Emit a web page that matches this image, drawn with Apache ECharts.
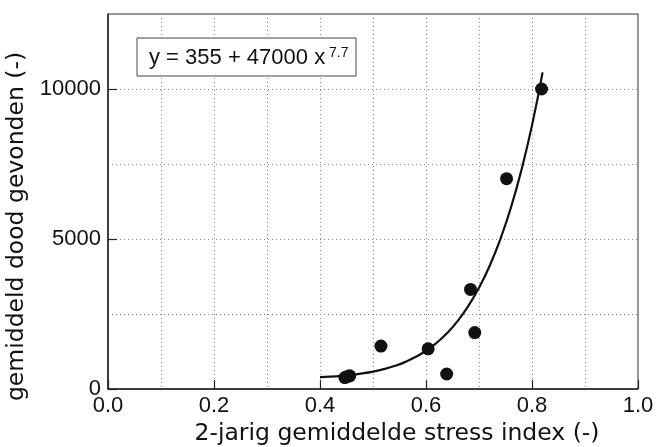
<!DOCTYPE html>
<html>
<head>
<meta charset="utf-8">
<script src="https://cdn.jsdelivr.net/npm/echarts@6/dist/echarts.min.js"></script>
<style>html,body{margin:0;padding:0;background:#fff}#c{width:656px;height:447px}</style>
</head>
<body>
<div id="c"></div>
<script>
// Observed points
const stressIndex = [0.447, 0.452, 0.456, 0.515, 0.604, 0.639, 0.684, 0.692, 0.752, 0.818];
const deadFound   = [380,   420,   440,   1430,  1340,  500,   3320,  1880,  7010,  10000];
// Fitted curve
const curveX = [0.40,0.42,0.44,0.46,0.48,0.50,0.52,0.54,0.56,0.58,0.60,0.62,0.64,0.66,0.68,0.70,0.72,0.74,0.76,0.78,0.80,0.82];
const curveY = [396,414,440,474,520,581,661,764,896,1064,1275,1540,1868,2272,2768,3372,4101,4981,6035,7293,8787,10554];
const xTitle = '2-jarig gemiddelde stress index (-)';
const yTitle = 'gemiddeld dood gevonden (-)';
const eqMain = 'y = 355 + 47000 x';
const eqExp = '7.7';

const TFONT = 'DejaVu Sans';
const FONT = 'Liberation Sans';
const dotted = {show:true, lineStyle:{color:'#8a8a8a', type:[1,3], width:1}};
const chart = echarts.init(document.getElementById('c'), null, {renderer:'canvas'});
chart.setOption({
  animation:false,
  backgroundColor:'#fff',
  grid:{left:108, right:18, top:14, bottom:58, show:true, borderColor:'#333', borderWidth:1,
        containLabel:false, outerBoundsMode:'none'},
  xAxis:{
    type:'value', min:0, max:1, interval:0.2,
    name:xTitle, nameLocation:'middle', nameGap:33,
    nameTextStyle:{fontFamily:TFONT, fontSize:23.5, color:'#111', padding:[0,0,0,48]},
    axisLine:{show:true, lineStyle:{color:'#222', width:1.5}},
    axisTick:{show:true, inside:true, length:9, lineStyle:{color:'#222', width:1.2}},
    axisLabel:{fontFamily:FONT, fontSize:22, color:'#111', margin:6, formatter:v=>v.toFixed(1)},
    splitLine:dotted,
    minorTick:{show:false, splitNumber:2},
    minorSplitLine:dotted
  },
  yAxis:[{
    type:'value', min:0, max:12500, interval:2500,
    axisLine:{show:true, lineStyle:{color:'#222', width:1.5}},
    axisTick:{show:false}, axisLabel:{show:false},
    splitLine:dotted
  },{
    type:'value', min:0, max:12500, interval:5000, position:'left',
    name:yTitle, nameLocation:'middle', nameGap:58,
    nameTextStyle:{fontFamily:TFONT, fontSize:23.5, color:'#111', padding:[0,50,0,0]},
    axisLine:{show:false},
    axisTick:{show:true, inside:true, length:9, lineStyle:{color:'#222', width:1.2}},
    axisLabel:{fontFamily:FONT, fontSize:22, color:'#111', margin:7, showMaxLabel:false,
               formatter:v=>String(v)},
    splitLine:{show:false}
  }],
  series:[{
    type:'line', data:curveX.map((x,i)=>[x,curveY[i]]), smooth:true, showSymbol:false,
    lineStyle:{color:'#111', width:2.2}, z:2
  },{
    type:'scatter', data:stressIndex.map((x,i)=>[x,deadFound[i]]),
    symbol:'circle', symbolSize:13, itemStyle:{color:'#111', opacity:1}, z:3
  }],
  graphic:[{
    type:'rect', shape:{x:137, y:38, width:219, height:38},
    style:{fill:'#fff', stroke:'#444', lineWidth:1}, z:10
  },{
    type:'text', x:149, y:58, z:11,
    style:{text:eqMain, fontFamily:FONT, fontSize:22, fill:'#111', verticalAlign:'middle', align:'left'}
  },{
    type:'text', x:329, y:53, z:11,
    style:{text:eqExp, fontFamily:FONT, fontSize:14, fill:'#111', verticalAlign:'middle', align:'left'}
  }]
});
</script>
</body>
</html>
